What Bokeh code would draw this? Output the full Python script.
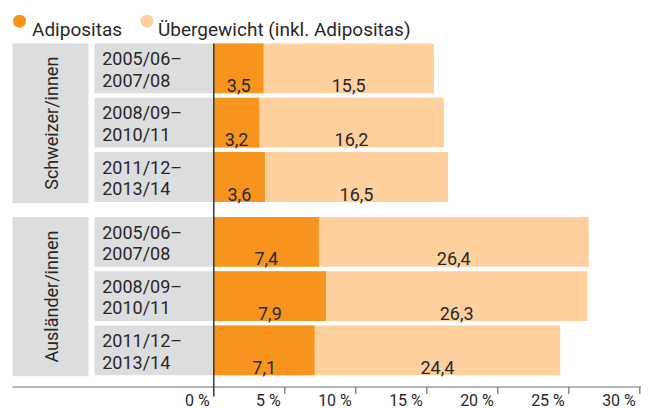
import math
from bokeh.plotting import figure
from bokeh.models import Range1d, ColumnDataSource
from bokeh.core.properties import value
from bokeh.embed import file_html
from bokeh.resources import INLINE

# ---- data ----
groups = ["Schweizer/innen", "Ausländer/innen"]
periods = ["2005/06–\n2007/08", "2008/09–\n2010/11", "2011/12–\n2013/14"]
adipositas = [3.5, 3.2, 3.6, 7.4, 7.9, 7.1]
uebergewicht = [15.5, 16.2, 16.5, 26.4, 26.3, 24.4]
series_names = ["Adipositas", "Übergewicht (inkl. Adipositas)"]
ticks = [0, 5, 10, 15, 20, 25, 30]
tick_labels = ["0 %", "5 %", "10 %", "15 %", "20 %", "25 %", "30 %"]

# ---- style / layout ----
ORANGE = "#F7941E"
LIGHT = "#FDD09E"
GRAY = "#DCDDDF"
TEXT = "#2B2727"
FONT = value("Roboto")

W, H = 652, 410
ZERO_PX = 213.3
PX_PER = 14.2


def xd(px):
    return (px - ZERO_PX) / PX_PER


ROW_TOP0 = 43.0
PITCH = 54.3
BAR_H = 49.8
GAP = 10.5
AX_Y = 386.5

p = figure(width=W, height=H, x_range=Range1d(xd(0), xd(W)), y_range=Range1d(H, 0),
           output_backend="svg", toolbar_location=None, min_border=0,
           x_axis_type=None, y_axis_type=None)
p.grid.visible = False
p.outline_line_color = None
p.background_fill_color = "white"
p.border_fill_color = "white"

centers, period_lab, group_top, group_bot = [], [], [], []
for gi, g in enumerate(groups):
    for pi, per in enumerate(periods):
        i = gi * len(periods) + pi
        top = ROW_TOP0 + i * PITCH + gi * GAP
        centers.append(top + BAR_H / 2)
        period_lab.append(per)
    group_top.append(ROW_TOP0 + gi * len(periods) * PITCH + gi * GAP)
    group_bot.append(centers[-1] + BAR_H / 2 + 1)

fmt = lambda v: f"{v:.1f}".replace(".", ",")

src = ColumnDataSource(dict(
    y=centers, adi=adipositas, ueb=uebergewicht, per=period_lab,
    adi_lab=[fmt(v) for v in adipositas], ueb_lab=[fmt(v) for v in uebergewicht],
    adi_mid=[a / 2 for a in adipositas],
    ueb_mid=[(a + u) / 2 for a, u in zip(adipositas, uebergewicht)],
    lab_y=[c + 17 for c in centers],
    per_y=[c + 1 for c in centers],
))

# group boxes
p.quad(left=xd(12), right=xd(88), top=group_top, bottom=group_bot, fill_color=GRAY, line_color=None)
p.text(x=xd(51), y=[(t + b) / 2 for t, b in zip(group_top, group_bot)], text=groups,
       angle=math.pi / 2, text_align="center", text_baseline="middle",
       text_font=FONT, text_font_size="18px", text_color=TEXT)

# period boxes
p.hbar(y="y", left=xd(94), right=0, height=BAR_H, source=src, fill_color=GRAY, line_color=None)
p.text(x=xd(101.7), y="per_y", text="per", source=src, text_align="left", text_baseline="middle",
       text_line_height=1.02, text_font=FONT, text_font_size="18px", text_color=TEXT)

# bars
p.hbar(y="y", left=0, right="ueb", height=BAR_H, source=src, fill_color=LIGHT, line_color=None)
p.hbar(y="y", left=0, right="adi", height=BAR_H, source=src, fill_color=ORANGE, line_color=None)
p.text(x="adi_mid", y="lab_y", text="adi_lab", source=src, text_align="center",
       text_baseline="alphabetic", text_font=FONT, text_font_size="18px", text_color=TEXT)
p.text(x="ueb_mid", y="lab_y", text="ueb_lab", source=src, text_align="center",
       text_baseline="alphabetic", text_font=FONT, text_font_size="18px", text_color=TEXT)

# axes
p.segment(x0=[xd(12)], y0=[AX_Y], x1=[xd(640.5)], y1=[AX_Y], line_color="#6E6E6E", line_width=1.2)
p.segment(x0=ticks[1:], y0=[AX_Y] * (len(ticks) - 1), x1=ticks[1:], y1=[AX_Y + 7] * (len(ticks) - 1),
          line_color="#6E6E6E", line_width=1.2)
p.segment(x0=[0], y0=[ROW_TOP0], x1=[0], y1=[AX_Y + 9.5], line_color="#2B2B2B", line_width=1.4)
p.text(x=ticks, y=[400.0] * len(ticks), text=tick_labels, x_offset=-4, text_align="right",
       text_baseline="alphabetic", text_font=FONT, text_font_size="16px", text_color=TEXT)

# legend
p.scatter(x=[xd(19), xd(146.5)], y=[20.7, 20.7], size=13, fill_color=[ORANGE, LIGHT], line_color=None)
p.text(x=[xd(31.5), xd(157.5)], y=[28.5, 28.5], text=series_names, text_align="left",
       text_baseline="alphabetic", text_font=FONT, text_font_size="19px", text_color=TEXT)

open("out.html", "w").write(file_html(p, INLINE))
